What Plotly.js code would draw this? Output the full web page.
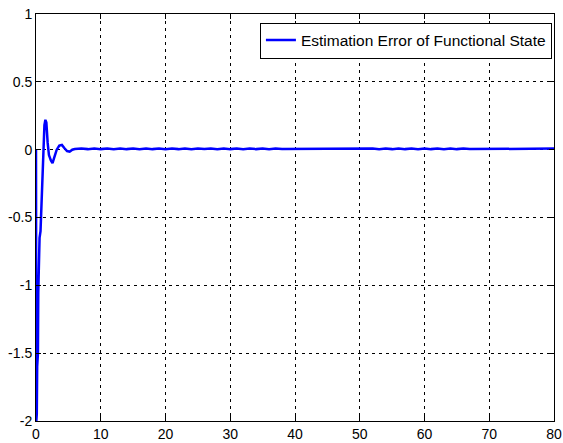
<!DOCTYPE html>
<html>
<head>
<meta charset="utf-8">
<script src="https://cdn.plot.ly/plotly-3.0.1.min.js"></script>
<style>html,body{margin:0;padding:0;background:#fff;}#chart{width:563px;height:443px;}</style>
</head>
<body>
<div id="chart"></div>
<script>
// transient part
const tTransient = [0, 0.05, 0.12, 0.18, 0.25, 0.3, 0.35, 0.45, 0.55, 0.7, 0.9, 1.1, 1.3, 1.45, 1.6, 1.8, 2.0, 2.3, 2.55, 2.8, 3.2, 3.6, 4.0, 4.4, 4.8, 5.2, 5.6, 6.0];
const eTransient = [0, -2.0, -1.95, -1.6, -1.55, -1.5, -1.05, -0.9, -0.65, -0.6, -0.34, -0.05, 0.18, 0.22, 0.2, 0.05, -0.04, -0.08, -0.1, -0.06, 0.0, 0.03, 0.035, 0.01, -0.01, -0.015, 0.0, 0.005];
// steady-state part (small ripple)
const tSteady = [7, 8, 9, 10, 11, 12, 13, 14, 15, 16, 17, 18, 19, 20, 21, 22, 23, 24, 25, 26, 27, 28, 29, 30, 31, 32, 33, 34, 35, 36, 37, 38, 39, 40, 41, 42, 43, 44, 45, 46, 47, 48, 49, 50, 51, 52, 53, 54, 55, 56, 57, 58, 59, 60, 61, 62, 63, 64, 65, 66, 67, 68, 69, 70, 71, 72, 73, 74, 75, 76, 77, 78, 79, 80];
const eSteady = [0.008, 0.004, 0.009, 0.004, 0.008, 0.003, 0.009, 0.004, 0.008, 0.003, 0.009, 0.004, 0.008, 0.003, 0.008, 0.004, 0.009, 0.003, 0.008, 0.004, 0.008, 0.003, 0.009, 0.004, 0.008, 0.003, 0.009, 0.004, 0.008, 0.003, 0.008, 0.004, 0.004, 0.004, 0.004, 0.008, 0.004, 0.004, 0.004, 0.004, 0.004, 0.004, 0.004, 0.008, 0.004, 0.009, 0.003, 0.008, 0.004, 0.009, 0.004, 0.008, 0.003, 0.009, 0.004, 0.008, 0.003, 0.009, 0.004, 0.008, 0.004, 0.004, 0.009, 0.004, 0.008, 0.004, 0.009, 0.004, 0.004, 0.004, 0.004, 0.004, 0.004, 0.008];
const seriesName = "Estimation Error of Functional State";
const xTickVals = [0, 10, 20, 30, 40, 50, 60, 70, 80];
const xTickText = ["0", "10", "20", "30", "40", "50", "60", "70", "80"];
const yTickVals = [-2, -1.5, -1, -0.5, 0, 0.5, 1];
const yTickText = ["-2", "-1.5", "-1", "-0.5", "0", "0.5", "1"];

const trace = {
  x: tTransient.concat(tSteady),
  y: eTransient.concat(eSteady),
  type: 'scatter', mode: 'lines', name: seriesName,
  line: {color: '#0000FF', width: 2.5},
  showlegend: true
};
const axisCommon = {
  showline: true, linecolor: '#000', linewidth: 1, mirror: 'ticks',
  ticks: 'inside', ticklen: 5, tickcolor: '#000',
  showgrid: true, gridcolor: '#000', gridwidth: 1, griddash: '3px,4px',
  zeroline: false, tickmode: 'array',
  tickfont: {family: 'Liberation Sans, Arial, sans-serif', size: 14, color: '#000'}
};
const layout = {
  width: 563, height: 443,
  margin: {l: 36, r: 9, t: 14, b: 22},
  paper_bgcolor: '#fff', plot_bgcolor: '#fff',
  showlegend: true,
  xaxis: Object.assign({}, axisCommon, {range: [0, 80], tickvals: xTickVals, ticktext: xTickText}),
  yaxis: Object.assign({}, axisCommon, {range: [-2, 1], tickvals: yTickVals, ticktext: yTickText}),
  legend: {
    x: 0.996, y: 0.979, xanchor: 'right', yanchor: 'top',
    bgcolor: '#fff', bordercolor: '#000', borderwidth: 1,
    font: {family: 'Liberation Sans, Arial, sans-serif', size: 15.5, color: '#000'}
  }
};
Plotly.newPlot('chart', [trace], layout, {displayModeBar: false, staticPlot: true});
</script>
</body>
</html>
